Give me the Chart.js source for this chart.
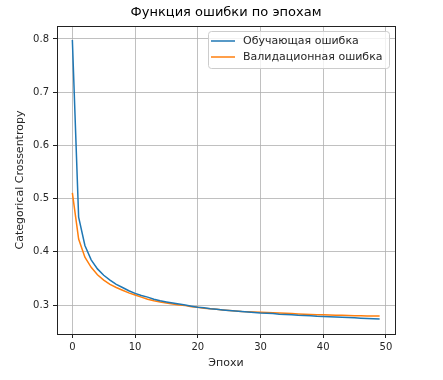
<!DOCTYPE html>
<html><head><meta charset="utf-8">
<script src="https://cdn.jsdelivr.net/npm/chart.js@4"></script>
<style>html,body{margin:0;padding:0;background:#fff}#wrap{width:443px;height:380px}</style>
</head><body><div id="wrap"><canvas id="c" width="443" height="380"></canvas></div>
<script>
const epochs = Array.from({length: 50}, (_, i) => i);
const trainLoss = [0.798,0.465,0.412,0.385,0.368,0.356,0.347,0.339,0.333,0.327,
  0.322,0.318,0.315,0.311,0.308,0.306,0.304,0.302,0.300,0.298,
  0.296,0.295,0.293,0.292,0.291,0.290,0.289,0.288,0.287,0.286,
  0.285,0.2845,0.284,0.283,0.2825,0.282,0.281,0.2805,0.280,0.279,
  0.2785,0.278,0.2775,0.277,0.2765,0.276,0.2755,0.275,0.2745,0.274];
const valLoss = [0.511,0.424,0.390,0.371,0.357,0.347,0.339,0.333,0.328,0.323,
  0.319,0.315,0.311,0.308,0.306,0.304,0.302,0.300,0.299,0.297,
  0.296,0.294,0.293,0.292,0.291,0.290,0.289,0.288,0.2875,0.287,
  0.2865,0.286,0.2855,0.285,0.2845,0.284,0.2835,0.283,0.2825,0.282,
  0.2818,0.2815,0.281,0.2807,0.2803,0.280,0.2798,0.2796,0.2795,0.2794];
const xTicks = [0,10,20,30,40,50];
const yTicks = [0.3,0.4,0.5,0.6,0.7,0.8];
const seriesLabels = ['Обучающая ошибка','Валидационная ошибка'];
const titleText = 'Функция ошибки по эпохам';
const xTitle = 'Эпохи';
const yTitle = 'Categorical Crossentropy';

const FONT = 'DejaVu Sans';

const frameAndLegend = {
  id: 'frameAndLegend',
  afterDraw(chart) {
    const ctx = chart.ctx, a = chart.chartArea;
    ctx.save();
    ctx.strokeStyle = '#222';
    ctx.lineWidth = 1;
    ctx.strokeRect(Math.round(a.left)+0.5, Math.round(a.top)+0.5, Math.round(a.right-a.left), Math.round(a.bottom-a.top));
    // title centered over the plot area
    ctx.fillStyle = '#000'; ctx.font = '13px "' + FONT + '"';
    ctx.textAlign = 'center'; ctx.textBaseline = 'middle';
    ctx.fillText(titleText, (a.left + a.right) / 2, 13);
    // legend
    const bx = 208.5, by = 31.5, bw = 181, bh = 37, r = 3;
    ctx.beginPath();
    ctx.moveTo(bx+r, by); ctx.lineTo(bx+bw-r, by); ctx.arcTo(bx+bw, by, bx+bw, by+r, r);
    ctx.lineTo(bx+bw, by+bh-r); ctx.arcTo(bx+bw, by+bh, bx+bw-r, by+bh, r);
    ctx.lineTo(bx+r, by+bh); ctx.arcTo(bx, by+bh, bx, by+bh-r, r);
    ctx.lineTo(bx, by+r); ctx.arcTo(bx, by, bx+r, by, r); ctx.closePath();
    ctx.fillStyle = 'rgba(255,255,255,0.8)'; ctx.fill();
    ctx.strokeStyle = '#cccccc'; ctx.lineWidth = 1; ctx.stroke();
    chart.data.datasets.forEach((ds, i) => {
      const y = 41 + i*16;
      ctx.strokeStyle = ds.borderColor; ctx.lineWidth = 1.5;
      ctx.beginPath(); ctx.moveTo(211, y); ctx.lineTo(235, y); ctx.stroke();
      ctx.fillStyle = '#262626'; ctx.font = '11px "' + FONT + '"';
      ctx.textBaseline = 'middle'; ctx.textAlign = 'left';
      ctx.fillText(ds.label, 243, y);
    });
    ctx.restore();
  }
};

new Chart(document.getElementById('c'), {
  type: 'line',
  data: {
    labels: epochs,
    datasets: [
      {label: seriesLabels[0], data: trainLoss, borderColor: '#1f77b4', borderWidth: 1.5, pointRadius: 0, fill: false, tension: 0},
      {label: seriesLabels[1], data: valLoss, borderColor: '#ff7f0e', borderWidth: 1.5, pointRadius: 0, fill: false, tension: 0}
    ]
  },
  options: {
    responsive: false, animation: false,
    layout: {padding: {left: 0, right: 48, top: 26, bottom: 0}},
    plugins: {
      legend: {display: false},
      tooltip: {enabled: false},
      title: {display: false}
    },
    scales: {
      x: {
        type: 'linear', min: -2.45, max: 51.45,
        afterBuildTicks: s => { s.ticks = xTicks.map(v => ({value: v})); },
        afterFit: s => { s.height = 46; },
        grid: {color: '#b0b0b0', lineWidth: 0.8, drawTicks: true, tickLength: 4, tickColor: '#222', tickWidth: 1},
        border: {display: false},
        ticks: {color: '#262626', font: {family: FONT, size: 10}, padding: 3, maxRotation: 0},
        title: {display: true, text: xTitle, color: '#262626', font: {family: FONT, size: 11}, padding: {top: 3, bottom: 10}}
      },
      y: {
        type: 'linear', min: 0.2457, max: 0.8243,
        afterBuildTicks: s => { s.ticks = yTicks.map(v => ({value: v})); },
        afterFit: s => { s.width = 57; },
        grid: {color: '#b0b0b0', lineWidth: 0.8, drawTicks: true, tickLength: 4, tickColor: '#222', tickWidth: 1},
        border: {display: false},
        ticks: {color: '#262626', font: {family: FONT, size: 10}, padding: 4, callback: v => v.toFixed(1)},
        title: {display: true, text: yTitle, color: '#262626', font: {family: FONT, size: 11}, padding: {top: 14, bottom: 0}}
      }
    }
  },
  plugins: [frameAndLegend]
});
</script></body></html>
